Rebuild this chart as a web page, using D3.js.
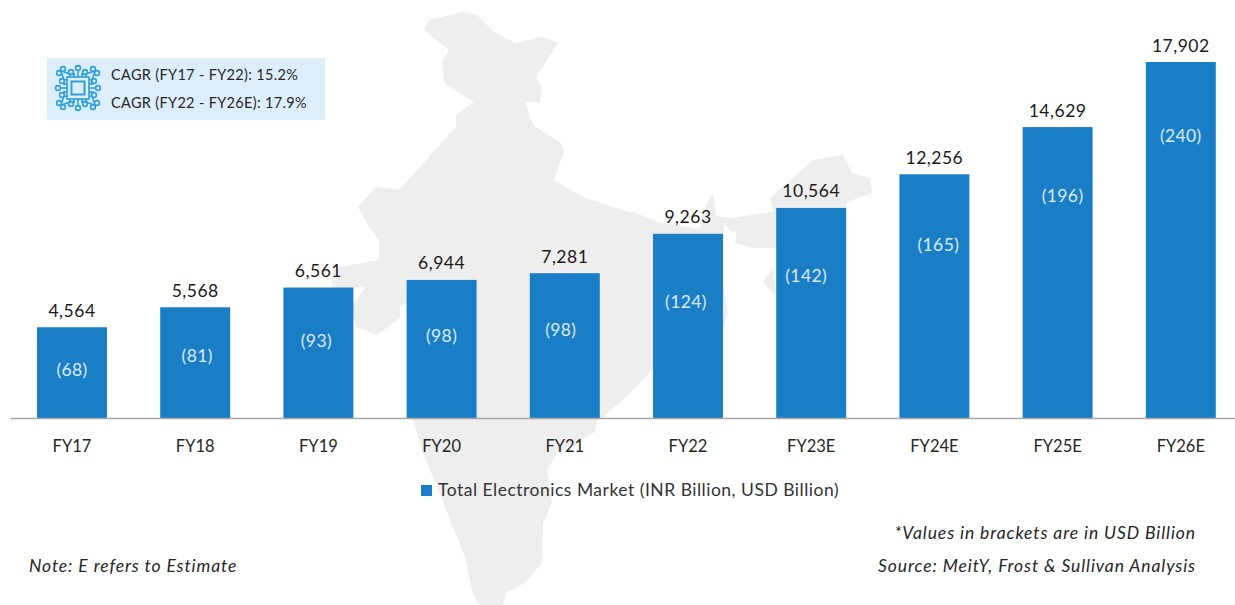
<!DOCTYPE html>
<html>
<head>
<meta charset="utf-8">
<script src="https://cdn.jsdelivr.net/npm/d3@7"></script>
<style>
  html, body { margin: 0; padding: 0; background: #fff; }
  svg { display: block; }
  text { font-family: Lato, "Open Sans", sans-serif; }
</style>
</head>
<body>
<svg id="chart" width="1235" height="605"></svg>
<script>
// data
var years = ["FY17", "FY18", "FY19", "FY20", "FY21", "FY22", "FY23E", "FY24E", "FY25E", "FY26E"];
var inrBillion = [4564, 5568, 6561, 6944, 7281, 9263, 10564, 12256, 14629, 17902];
var usdBillion = [68, 81, 93, 98, 98, 124, 142, 165, 196, 240];
var cagrLines = ["CAGR (FY17 - FY22): 15.2%", "CAGR (FY22 - FY26E): 17.9%"];
var seriesName = "Total Electronics Market (INR Billion, USD Billion)";

// the usd labels were placed by hand in the original, not centred in the bars
var usdLabelRise = [48, 62, 77, 82, 88, 116, 142, 173, 222, 282];
var usdLabelShift = [0, 2, -2, 0, -4, -2, -5, 4, 5, 0];

// background map, traced in page pixels
var mapOutline = [
    [424,30],[429,20],[463,12],[477,15],[494,32],[515,43],[542,37],[558,43],[545,63],[536,78],
    [542,88],[540,102],[526,102],[529,113],[533,125],[561,143],[564,152],[554,180],[583,197],
    [615,208],[636,213],[661,223],[700,229],[705,207],[713,193],[716,216],[730,218],[773,212],
    [770,198],[813,160],[843,155],[852,173],[870,178],[872,193],[847,202],[840,240],[777,248],
    [753,248],[735,243],[737,230],[732,232],[724,224],[724,290],[728,313],[725,325],[690,345],
    [652,370],[625,398],[603,417],[597,420],[595,432],[557,453],[547,470],[552,503],[543,523],
    [542,563],[525,583],[507,592],[503,605],[480,605],[473,595],[465,557],[450,520],[437,487],
    [423,453],[413,420],[406,303],[400,306],[400,318],[377,335],[357,327],[350,310],[355,302],
    [365,287],[352,288],[332,288],[332,272],[340,267],[379,260],[379,240],[369,227],[358,207],
    [376,187],[399,190],[456,127],[456,115],[474,102],[444,83],[442,63],[449,50]
];
// detached bump left of the FY23E bar
var mapBump = [[773,268],[763,282],[777,297]];

var svg = d3.select("#chart");
var barBlue = "#1a7ec6";
var baseY = 418;

var x = d3.scaleBand().domain(years).range([10.4, 1242.4]).paddingInner(0.432).paddingOuter(0.216);
var y = d3.scaleLinear().domain([0, 17902]).range([baseY, 62]);

// map goes first, everything else sits on it
var outline = d3.line().curve(d3.curveLinear);
svg.append("path").attr("d", outline(mapOutline) + "Z").attr("fill", "#eeeeee");
svg.append("path").attr("d", outline(mapBump) + "Z").attr("fill", "#eeeeee");

// bars
svg.append("g").selectAll("rect")
    .data(inrBillion)
    .enter()
    .append("rect")
    .attr("x", function(d, i) { return x(years[i]); })
    .attr("y", function(d) { return y(d); })
    .attr("width", x.bandwidth())
    .attr("height", function(d) { return baseY - y(d); })
    .attr("fill", barBlue);

// baseline, stops at the page edge
svg.append("line")
    .attr("x1", 11).attr("x2", 1235)
    .attr("y1", baseY + 0.5).attr("y2", baseY + 0.5)
    .attr("stroke", "#a6a6a6")
    .attr("stroke-width", 1.5);

// x axis
var xAxis = svg.append("g")
    .attr("transform", "translate(0," + baseY + ")")
    .call(d3.axisBottom(x).tickSize(0).tickPadding(22));
xAxis.select(".domain").remove();
xAxis.selectAll("text")
    .style("font-family", "Lato, sans-serif")
    .style("font-size", "16.5px")
    .attr("fill", "#262626");

// inr labels on top of the bars
svg.append("g").selectAll("text")
    .data(inrBillion)
    .enter()
    .append("text")
    .attr("x", function(d, i) { return x(years[i]) + x.bandwidth() / 2; })
    .attr("y", function(d) { return y(d) - 10.5; })
    .attr("text-anchor", "middle")
    .attr("fill", "#1a1a1a")
    .style("font-size", "17.5px")
    .style("letter-spacing", "0.5px")
    .text(d3.format(","));

// usd labels inside the bars
svg.append("g").selectAll("text")
    .data(usdBillion)
    .enter()
    .append("text")
    .attr("x", function(d, i) { return x(years[i]) + x.bandwidth() / 2 + usdLabelShift[i]; })
    .attr("y", function(d, i) { return baseY - usdLabelRise[i] + 6; })
    .attr("text-anchor", "middle")
    .attr("fill", "#dcebf7")
    .style("font-size", "17.5px")
    .style("letter-spacing", "0.4px")
    .text(function(d) { return "(" + d + ")"; });

// cagr box
svg.append("rect")
    .attr("x", 47).attr("y", 58)
    .attr("width", 278).attr("height", 62)
    .attr("fill", "#ddeefb");

svg.append("g").selectAll("text")
    .data(cagrLines)
    .enter()
    .append("text")
    .attr("x", 111)
    .attr("y", function(d, i) { return 80 + i * 27.5; })
    .attr("fill", "#262626")
    .style("font-size", "14.5px")
    .style("letter-spacing", "0.33px")
    .text(function(d) { return d; });

// chip icon in the box
var chip = svg.append("g")
    .attr("transform", "translate(78,88)")
    .attr("fill", "none")
    .attr("stroke", "#2f9fd8")
    .attr("stroke-width", 1.6);
chip.append("rect").attr("x", -11).attr("y", -11).attr("width", 22).attr("height", 22);
chip.append("rect").attr("x", -6.5).attr("y", -6.5).attr("width", 13).attr("height", 13).attr("stroke-width", 2);
var pinSpots = [[-15,-19],[-7,-16],[0,-20],[7,-16],[15,-19]];
[0, 90, 180, 270].forEach(function(turn) {
    var side = chip.append("g").attr("transform", "rotate(" + turn + ")");
    pinSpots.forEach(function(p) {
        var startX = p[0] * 0.55;
        side.append("path").attr("d", d3.line()([[startX, -11], [startX, -14], [p[0], p[1] + 2.5]]));
        side.append("circle").attr("cx", p[0]).attr("cy", p[1]).attr("r", 2.4);
    });
});

// legend
svg.append("rect")
    .attr("x", 421).attr("y", 485)
    .attr("width", 11).attr("height", 11)
    .attr("fill", barBlue);
svg.append("text")
    .attr("x", 438).attr("y", 496)
    .attr("fill", "#333333")
    .style("font-size", "17.5px")
    .style("letter-spacing", "0.5px")
    .text(seriesName);

// foot notes
var noteSize = "17.5px", noteSpacing = "0.9px";
svg.append("text")
    .attr("x", 29).attr("y", 572)
    .attr("fill", "#262626")
    .style("font-size", noteSize)
    .style("letter-spacing", noteSpacing)
    .style("font-style", "italic")
    .text("Note: E refers to Estimate");
svg.append("text")
    .attr("x", 1196).attr("y", 539)
    .attr("text-anchor", "end")
    .attr("fill", "#262626")
    .style("font-size", noteSize)
    .style("letter-spacing", noteSpacing)
    .style("font-style", "italic")
    .text("*Values in brackets are in USD Billion");
svg.append("text")
    .attr("x", 1196).attr("y", 572)
    .attr("text-anchor", "end")
    .attr("fill", "#262626")
    .style("font-size", noteSize)
    .style("letter-spacing", noteSpacing)
    .style("font-style", "italic")
    .text("Source: MeitY, Frost & Sullivan Analysis");
</script>
</body>
</html>
